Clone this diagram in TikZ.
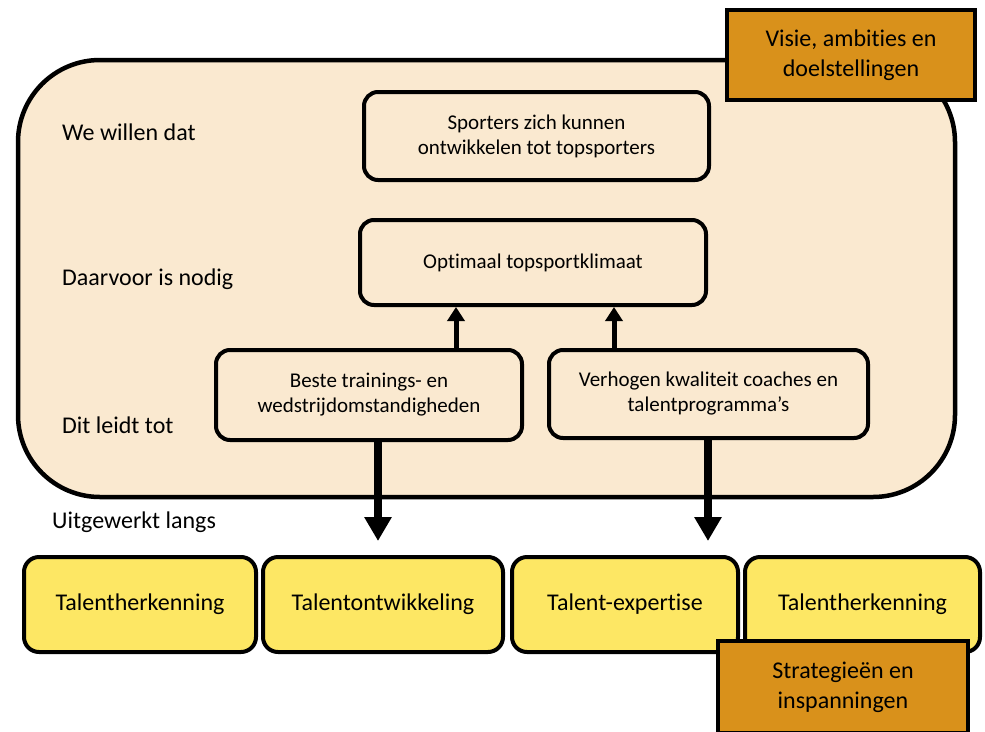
\documentclass[tikz,border=0pt]{standalone}
\usepackage{fontspec}
\setmainfont{Carlito}[Ligatures={NoCommon,NoRare,NoDiscretionary}]
\usetikzlibrary{arrows.meta}
\definecolor{climate}{RGB}{250,233,208}
\definecolor{goalorange}{RGB}{217,145,27}
\definecolor{lineyellow}{RGB}{253,231,100}

\begin{document}
\begin{tikzpicture}[x=1pt,y=-1pt,
  stepbox/.style={draw,line width=4pt,rounded corners=14pt,fill=climate,align=center,
    inner sep=0pt,font=\fontsize{21}{25}\selectfont},
  linebox/.style={draw,line width=4pt,rounded corners=15pt,fill=lineyellow,align=center,
    inner sep=0pt,minimum height=95pt,font=\fontsize{24}{29}\selectfont},
  tagbox/.style={draw,line width=4.5pt,fill=goalorange,align=center,inner sep=0pt,
    minimum width=248pt,minimum height=90pt,font=\fontsize{24}{30}\selectfont},
  rowlabel/.style={anchor=west,inner sep=0pt,font=\fontsize{24}{28}\selectfont},
  uparrow/.style={line width=5pt,-{Triangle[width=17pt,length=14pt]}},
  downarrow/.style={line width=8pt,-{Triangle[width=26pt,length=24pt]}}]
\useasboundingbox (0,0) rectangle (985,731);
% kader
\draw[line width=4.5pt,rounded corners=82pt,fill=climate] (18,60) rectangle (955,497);
\node[tagbox] (visie) at (851,55) {Visie, ambities en\\doelstellingen};

\node[rowlabel] (wij) at (62,132) {We willen dat};
\node[rowlabel] (nodig) at (62,279) {Daarvoor is nodig};
\node[rowlabel] (leidt) at (62,425) {Dit leidt tot};
\node[rowlabel] (langs) at (52,522) {Uitgewerkt langs};

\node[stepbox,minimum width=345pt,minimum height=88pt] (sporters) at (536.5,136)
  {Sporters zich kunnen\\ontwikkelen tot topsporters};
\node[stepbox,minimum width=346pt,minimum height=85pt] (klimaat) at (533,262.5)
  {Optimaal topsportklimaat};
\node[stepbox,minimum width=306pt,minimum height=90pt] (beste) at (369,395)
  {Beste trainings- en\\wedstrijdomstandigheden};
\node[stepbox,minimum width=319pt,minimum height=88pt] (coaches) at (708.5,394)
  {Verhogen kwaliteit coaches en\\talentprogramma’s};

% pijlen
\coordinate (ua) at (456,300);
\coordinate (ub) at (614,300);
\draw[uparrow] (beste.north -| ua) -- (klimaat.south -| ua);
\draw[uparrow] (coaches.north -| ub) -- (klimaat.south -| ub);

\node[linebox,minimum width=232pt] (herk) at (140,604.5) {Talentherkenning};
\node[linebox,minimum width=240pt] (ontw) at (383,604.5) {Talentontwikkeling};
\node[linebox,minimum width=226pt] (exp) at (625,604.5) {Talent-expertise};
\node[linebox,minimum width=235pt] (herk2) at (862.5,604.5) {Talentherkenning};

\coordinate (da) at (378,541);
\coordinate (db) at (708,541);
\draw[downarrow] (beste.south -| da) -- (da);
\draw[downarrow] (coaches.south -| db) -- (db);

\node[tagbox,minimum width=250pt,minimum height=92pt] (strat) at (843,687)
  {Strategieën en\\inspanningen};
\end{tikzpicture}
\end{document}
